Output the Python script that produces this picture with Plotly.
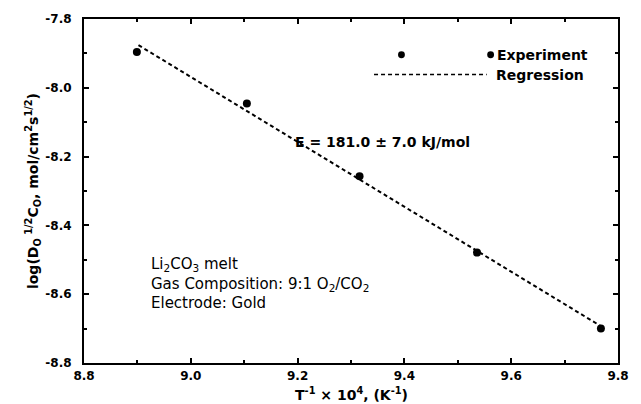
import plotly.graph_objects as go

# Measured points: inverse temperature (10^4/K) vs log(D^1/2 C)
inv_temp = [8.899, 9.105, 9.316, 9.536, 9.768]
log_dc = [-7.896, -8.046, -8.257, -8.479, -8.700]

# Least-squares regression line end points
reg_x = [8.902, 9.768]
reg_y = [-7.876, -8.693]

x_ticks = [8.8, 9.0, 9.2, 9.4, 9.6, 9.8]
y_ticks = [-7.8, -8.0, -8.2, -8.4, -8.6, -8.8]

FONT_B = "DejaVu Sans"
L, R, T, B = 84, 12, 16, 41
W, H = 641, 404
PW, PH = W - L - R, H - T - B


def px(x):
    return (x - L) / PW


def py(y):
    return (H - B - y) / PH


fig = go.Figure()
fig.add_trace(go.Scatter(
    x=reg_x, y=reg_y, mode="lines",
    line=dict(color="black", width=2, dash="4px,3px"),
    showlegend=False, hoverinfo="skip"))
fig.add_trace(go.Scatter(
    x=inv_temp, y=log_dc, mode="markers",
    marker=dict(color="black", size=8),
    showlegend=False))

axis_common = dict(
    showline=True, linecolor="black", linewidth=2, mirror="ticks",
    ticks="inside", ticklen=5, tickwidth=1.5, tickcolor="black",
    showgrid=False, zeroline=False,
    tickfont=dict(family=FONT_B, size=12, color="black", weight="bold"),
)

fig.update_xaxes(
    range=[8.8, 9.8], tickvals=x_ticks,
    ticktext=[f"{v:.1f}" for v in x_ticks],
    minor=dict(dtick=0.1, ticks="inside", ticklen=3, tickcolor="black", showgrid=False),
    ticklabelstandoff=1,
    **axis_common)
fig.update_yaxes(
    range=[-8.8, -7.8], tickvals=y_ticks,
    ticktext=[f"{v:.1f}" for v in y_ticks],
    minor=dict(dtick=0.1, ticks="inside", ticklen=3, tickcolor="black", showgrid=False),
    ticklabelstandoff=8,
    **axis_common)

shapes = []
# legend samples
for cx in (408, 499):
    shapes.append(dict(type="circle", xref="paper", yref="paper",
                       x0=px(cx - 3.5), x1=px(cx + 3.5),
                       y0=py(52 + 3.5), y1=py(52 - 3.5),
                       fillcolor="black", line=dict(color="black", width=0)))
shapes.append(dict(type="line", xref="paper", yref="paper",
                   x0=px(380), x1=px(495), y0=py(72), y1=py(72),
                   line=dict(color="black", width=1.5, dash="4px,3px")))

annotations = [
    dict(text="<b>Experiment</b>", x=px(503), y=py(52), xref="paper", yref="paper",
         xanchor="left", yanchor="middle", showarrow=False,
         font=dict(family=FONT_B, size=14, color="black")),
    dict(text="<b>Regression</b>", x=px(502), y=py(72), xref="paper", yref="paper",
         xanchor="left", yanchor="middle", showarrow=False,
         font=dict(family=FONT_B, size=14, color="black")),
    dict(text="<b>E = 181.0 ± 7.0 kJ/mol</b>", x=px(297), y=py(140),
         xref="paper", yref="paper", xanchor="left", yanchor="middle",
         showarrow=False, font=dict(family=FONT_B, size=14, color="black")),
    dict(text="Li<sub>2</sub>CO<sub>3</sub> melt<br>Gas Composition: 9:1 O<sub>2</sub>/CO<sub>2</sub><br>Electrode: Gold",
         x=px(150), y=py(283), xref="paper", yref="paper",
         xanchor="left", yanchor="middle", align="left", showarrow=False,
         font=dict(family=FONT_B, size=15, color="black")),
    dict(text="<b>T<sup>-1</sup> × 10<sup>4</sup>, (K<sup>-1</sup>)</b>",
         x=0.5, y=py(394), xref="paper", yref="paper",
         xanchor="center", yanchor="middle", showarrow=False,
         font=dict(family=FONT_B, size=14, color="black")),
    dict(text="<b>log(D<sub>O</sub><sup> 1/2</sup>C<sub>O</sub>, mol/cm<sup>2</sup>s<sup>1/2</sup>)</b>",
         x=px(32), y=0.5, xref="paper", yref="paper", textangle=-90,
         xanchor="center", yanchor="middle", showarrow=False,
         font=dict(family=FONT_B, size=14, color="black")),
]

fig.update_layout(
    width=W, height=H,
    margin=dict(l=L, r=R, t=T, b=B),
    paper_bgcolor="white", plot_bgcolor="white",
    shapes=shapes, annotations=annotations,
    showlegend=False,
)

fig.write_html("out.html")
